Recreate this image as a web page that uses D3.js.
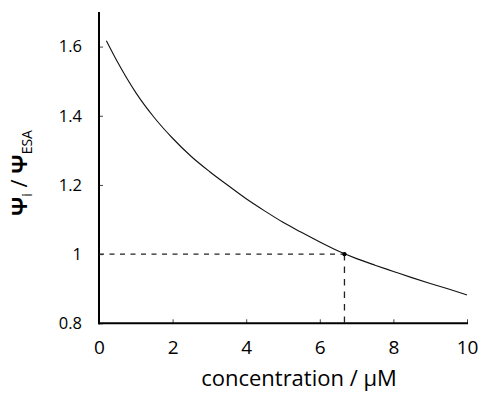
<!DOCTYPE html>
<html><head><meta charset="utf-8">
<script src="https://cdn.jsdelivr.net/npm/d3@7"></script>
<style>
body{margin:0;background:#fff;}
svg{display:block;font-family:"Open Sans",sans-serif;}
</style></head>
<body>
<svg id="chart" width="479" height="393"></svg>
<script>
// concentration (µM) and ratio
const concentration = [0.2, 0.5, 1.0, 1.5, 2.0, 2.5, 3.0, 3.5, 4.0, 4.5, 5.0, 5.5, 6.0, 6.5, 7.0, 7.5, 8.0, 8.5, 9.0, 9.5, 10.0];
const ratio = [1.617, 1.556, 1.467, 1.395, 1.335, 1.283, 1.239, 1.199, 1.160, 1.125, 1.092, 1.063, 1.035, 1.009, 0.987, 0.968, 0.950, 0.932, 0.915, 0.899, 0.882];
const markerX = [6.67];
const markerY = [1.0];
const xTicks = [0, 2, 4, 6, 8, 10];
const yTicks = [0.8, 1.0, 1.2, 1.4, 1.6];
const yTickLabels = ["0.8", "1", "1.2", "1.4", "1.6"];

const svg = d3.select("#chart");
const x = d3.scaleLinear().domain([0, 10]).range([99, 467]);
const y = d3.scaleLinear().domain([0.8, 1.7]).range([323.3, 12]);

// axes
const xAxis = d3.axisBottom(x).tickValues(xTicks).tickFormat(d3.format("d")).tickSizeInner(-4).tickSizeOuter(0).tickPadding(17);
const gx = svg.append("g").attr("transform", `translate(0,${y(0.8)})`).call(xAxis);
gx.select(".domain").remove();
gx.selectAll(".tick line").attr("stroke", "#444").attr("stroke-width", 1);
gx.selectAll(".tick text").attr("font-size", 19).attr("fill", "#000").attr("font-family", "Open Sans");

const yAxis = d3.axisLeft(y).tickValues(yTicks).tickFormat((d, i) => yTickLabels[i]).tickSizeInner(-4).tickSizeOuter(0).tickPadding(17);
const gy = svg.append("g").attr("transform", `translate(${x(0)},0)`).call(yAxis);
gy.select(".domain").remove();
gy.selectAll(".tick line").attr("stroke", "#444").attr("stroke-width", 1);
gy.selectAll(".tick text").attr("font-size", 16.5).attr("fill", "#000").attr("font-family", "Open Sans");

// thick axis lines
svg.append("line").attr("x1", x(0)).attr("x2", x(0)).attr("y1", y(1.7)).attr("y2", y(0.8) + 1)
  .attr("stroke", "#000").attr("stroke-width", 2);
svg.append("line").attr("x1", x(0) - 1).attr("x2", x(10) + 1).attr("y1", y(0.8)).attr("y2", y(0.8))
  .attr("stroke", "#000").attr("stroke-width", 2);

// dashed guides
svg.append("line").attr("x1", x(0)).attr("x2", x(markerX[0])).attr("y1", y(markerY[0])).attr("y2", y(markerY[0]))
  .attr("stroke", "#222").attr("stroke-width", 1.3).attr("stroke-dasharray", "5,5.5");
svg.append("line").attr("x1", x(markerX[0])).attr("x2", x(markerX[0])).attr("y1", y(markerY[0])).attr("y2", y(0.8))
  .attr("stroke", "#222").attr("stroke-width", 1.3).attr("stroke-dasharray", "6.5,6");

// curve
const pts = concentration.map((c, i) => [c, ratio[i]]);
svg.append("path").datum(pts)
  .attr("d", d3.line().x(d => x(d[0])).y(d => y(d[1])).curve(d3.curveMonotoneX))
  .attr("fill", "none").attr("stroke", "#111").attr("stroke-width", 1.1);

// marker
svg.append("circle").attr("cx", x(markerX[0])).attr("cy", y(markerY[0])).attr("r", 2.2).attr("fill", "#000");

// x label
svg.append("text").attr("x", 299).attr("y", 386).attr("text-anchor", "middle")
  .attr("font-size", 22).attr("font-family", "Open Sans").attr("fill", "#000")
  .text("concentration / μM");

// y label
const yl = svg.append("text").attr("transform", "translate(27,173) rotate(-90)").attr("text-anchor", "middle")
  .attr("font-family", "Open Sans").attr("fill", "#000");
yl.append("tspan").attr("font-size", 22).attr("font-weight", "bold").text("Ψ");
yl.append("tspan").attr("font-size", 14).attr("dy", 5).text("i");
yl.append("tspan").attr("font-size", 22).attr("dy", -5).text(" / ");
yl.append("tspan").attr("font-size", 22).attr("font-weight", "bold").text("Ψ");
yl.append("tspan").attr("font-size", 14).attr("dy", 5).text("ESA");
</script>
</body></html>
